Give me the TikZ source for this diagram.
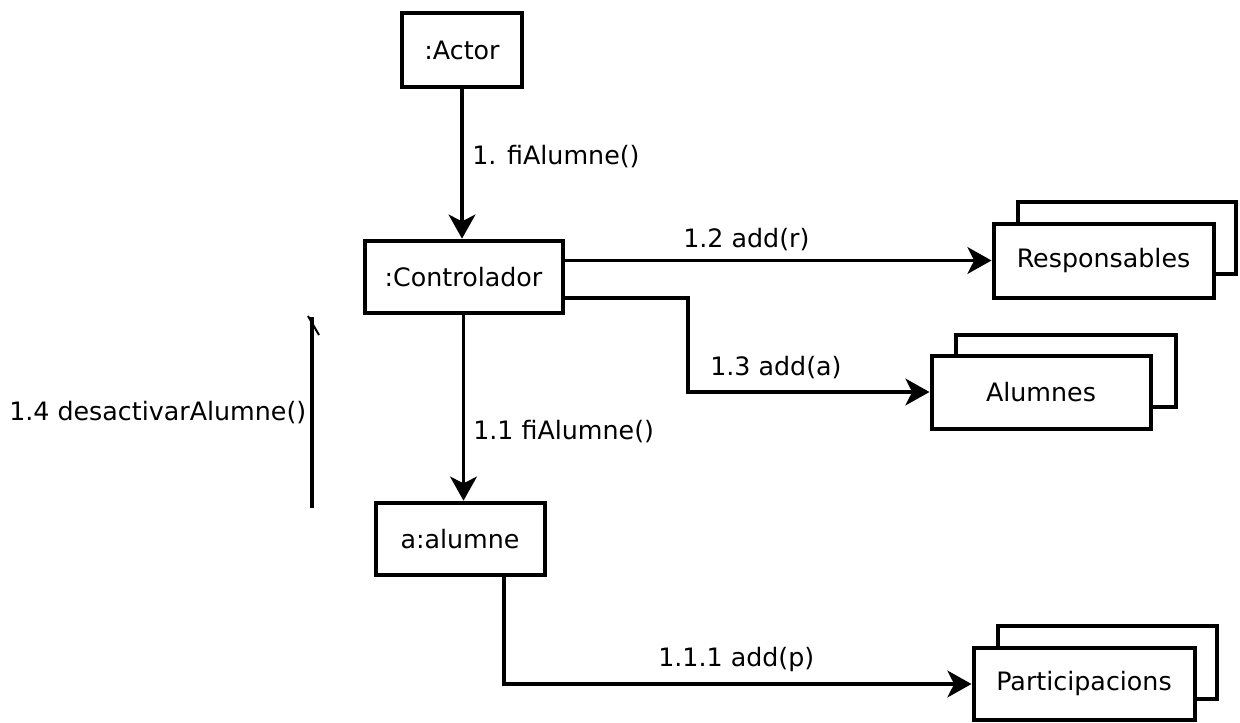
\documentclass[tikz,border=0pt]{standalone}
\usepackage{fontspec}
\setmainfont{DejaVu Sans}
\usetikzlibrary{arrows.meta}
\begin{document}
\begin{tikzpicture}[x=0.75pt,y=-0.75pt,
  obj/.style={draw=black,line width=3pt,fill=white,inner sep=0pt,
    font=\fontsize{19}{23}\selectfont},
  conn/.style={line width=2.8pt,
    -{Stealth[length=18pt,width=20pt,inset=5pt]}},
  lbl/.style={font=\fontsize{19}{23}\selectfont,inner sep=0pt,anchor=west}]
\useasboundingbox (0,0) rectangle (1240,722);

% single objects
\node[obj,minimum width=90pt,minimum height=56pt]  (actor)  at (462,50)  {:Actor};
\node[obj,minimum width=148.5pt,minimum height=54.5pt] (ctrl) at (463.5,277) {:Controlador};
\node[obj,minimum width=126.75pt,minimum height=54.5pt] (alu) at (460,539) {a:alumne};

% multi-objects (stacked boxes): back box first, front box on top
\node[obj,minimum width=163.5pt,minimum height=54pt] (respback) at (1126.5,237.5) {};
\node[obj,minimum width=165pt,minimum height=55.5pt] (resp) at (1103.5,260.5) {Responsables};

\node[obj,minimum width=165pt,minimum height=54pt] (alumback) at (1065.5,370.5) {};
\node[obj,minimum width=164.25pt,minimum height=54.75pt] (alum) at (1041,392) {Alumnes};

\node[obj,minimum width=164.25pt,minimum height=54.75pt] (partback) at (1107,662) {};
\node[obj,minimum width=165.75pt,minimum height=54pt] (part) at (1084,684) {Participacions};

% message links
\draw[conn] (actor.south) -- (actor.south |- ctrl.north);
\draw[conn] (ctrl.south) -- (ctrl.south |- alu.north);
\draw[conn] (ctrl.east |- resp.west) -- (resp.west);

\coordinate (bend3) at (688,298);
\draw[conn] (ctrl.east |- bend3) -- (bend3) |- (alum.west);

\coordinate (bend4) at (504,685);
\draw[conn] (alu.south -| bend4) |- (part.west);

% return message 1.4
\coordinate (d1) at (312,508);
\coordinate (d2) at (312,317);
\draw[line width=2.8pt] (d1) -- (d2);
\draw[line width=1.5pt] (d2) ++(-4,-1) -- ++(11,19);

% labels
\node[lbl] (l1)   at (472,157) {1. fiAlumne()};
\node[lbl] (l12)  at (683,240) {1.2 add(r)};
\node[lbl] (l13)  at (710,368) {1.3 add(a)};
\node[lbl] (l14)  at (9,413)   {1.4 desactivarAlumne()};
\node[lbl] (l11)  at (473,432) {1.1 fiAlumne()};
\node[lbl] (l111) at (658,660) {1.1.1 add(p)};
\end{tikzpicture}
\end{document}
